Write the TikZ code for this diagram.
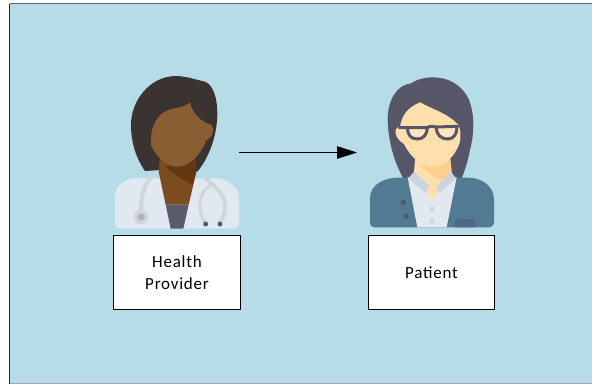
\documentclass[tikz,border=0pt]{standalone}
\usepackage{fontspec}
\setmainfont{Carlito}[LetterSpace=4.5]
\usetikzlibrary{arrows.meta}
\definecolor{bgblue}{HTML}{B6DCE7}
\definecolor{hairA}{HTML}{3B3232}
\definecolor{skinA}{HTML}{8A5D33}
\definecolor{neckA}{HTML}{7A4C20}
\definecolor{neckB}{HTML}{64390F}
\definecolor{coatA}{HTML}{E1E8EF}
\definecolor{stethA}{HTML}{CFD5DB}
\definecolor{shirtA}{HTML}{5B5A6B}
\definecolor{hairB}{HTML}{575568}
\definecolor{skinB}{HTML}{FFE0AC}
\definecolor{neckC}{HTML}{FFCF8F}
\definecolor{lensB}{HTML}{FFE6BC}
\definecolor{jacket}{HTML}{537A93}
\definecolor{pocket}{HTML}{4D6A8E}
\definecolor{collar}{HTML}{CCD5DD}
\tikzset{
  lab/.style={draw=black,fill=white,line width=.8pt,minimum width=126.7pt,minimum height=74.5pt,inner sep=2pt,align=center,font=\fontsize{17}{22}\selectfont},
  icon/.style={x=.33333pt,y=-.33333pt},
}
\begin{document}
\begin{tikzpicture}[x=1pt,y=-1pt]
\useasboundingbox (0,0) rectangle (592,384);
\fill[white] (0,0) rectangle (592,384);
\fill[bgblue] (9.5,3.5) rectangle (592,383);
\draw[black!85,line width=.8pt] (9.5,384) -- (9.5,3.5);
\draw[black!60,line width=.8pt] (9.5,3.5) -- (592,3.5);
\draw[black!35,line width=.7pt] (9.5,383.4) -- (592,383.4);
% doctor
\begin{scope}[shift={(100,70)},icon]
\fill[coatA] (45,380) .. controls (45,345) and (75,325) .. (110,325) -- (340,325) .. controls (385,325) and (417,350) .. (417,385) -- (417,460) .. controls (417,470) and (410,476) .. (400,476) -- (60,476) .. controls (50,476) and (45,470) .. (45,460) -- cycle;
\fill[hairA] (225,18) .. controls (260,18) and (290,30) .. (315,35) .. controls (340,45) and (352,85) .. (352,130) .. controls (352,190) and (330,260) .. (292,305) -- (180,300) -- (135,303) .. controls (105,260) and (92,210) .. (93,160) .. controls (95,90) and (150,20) .. (225,18) -- cycle;
\fill[neckA] (176,305) -- (180,260) -- (285,260) -- (288,310) -- (266,404) -- (197,404) -- cycle;
\fill[neckB] (195,290) -- (285,260) -- (288,310) -- (278,345) .. controls (250,330) and (225,315) .. (195,290) -- cycle;
\fill[shirtA] (197,404) -- (266,404) -- (250,476) -- (212,476) -- cycle;
\fill[skinA] (270,97) .. controls (278,130) and (300,155) .. (335,165) .. controls (345,175) and (340,200) .. (318,212) .. controls (300,260) and (265,290) .. (230,290) .. controls (195,288) and (165,255) .. (153,225) .. controls (150,180) and (165,135) .. (205,120) .. controls (230,112) and (255,112) .. (270,97) -- cycle;
\draw[stethA,line width=4pt,line cap=round] (165,312) .. controls (135,335) and (123,370) .. (123,425);
\fill[stethA] (123,441) circle (22);
\fill[gray!60] (123,441) circle (11);
\draw[stethA,line width=4pt,line cap=round] (318,325) .. controls (330,340) and (378,370) .. (376,410) .. controls (375,435) and (365,450) .. (358,458);
\draw[stethA,line width=3pt] (335,345) .. controls (310,355) and (298,385) .. (300,410) .. controls (302,435) and (310,450) .. (316,458);
\fill[shirtA] (317,462) circle (7.5) (360,462) circle (7.5);
\end{scope}
% patient
\begin{scope}[shift={(355,70)},icon]
\fill[hairB] (235,22) .. controls (280,22) and (320,45) .. (340,85) .. controls (360,130) and (358,190) .. (345,240) .. controls (338,275) and (330,300) .. (320,325) -- (145,325) .. controls (120,280) and (100,220) .. (98,150) .. controls (98,90) and (125,45) .. (168,40) .. controls (185,28) and (210,22) .. (235,22) -- cycle;
\fill[jacket] (45,385) .. controls (45,345) and (85,323) .. (130,323) -- (335,323) .. controls (385,323) and (417,350) .. (417,390) -- (417,455) .. controls (417,466) and (410,472) .. (400,472) -- (60,472) .. controls (50,472) and (45,466) .. (45,455) -- cycle;
\fill[coatA] (158,322) -- (305,322) -- (275,472) -- (187,472) -- cycle;
\fill[skinB] (181,260) -- (285,260) -- (290,308) -- (233,392) -- (177,305) -- cycle;
\fill[neckC] (195,285) -- (285,260) -- (290,308) -- (268,335) .. controls (240,325) and (215,305) .. (195,285) -- cycle;
\fill[collar] (160,325) -- (177,305) -- (222,345) -- (212,370) -- cycle;
\fill[collar] (303,325) -- (288,305) -- (243,350) -- (253,370) -- cycle;
\fill[skinB] (196,97) .. controls (225,115) and (280,130) .. (310,165) .. controls (318,180) and (318,200) .. (314,218) .. controls (300,262) and (265,290) .. (232,290) .. controls (195,288) and (165,258) .. (147,222) .. controls (130,212) and (118,195) .. (122,180) .. controls (124,172) and (130,170) .. (135,170) .. controls (140,140) and (155,112) .. (196,97) -- cycle;
\fill[lensB] (150,173) -- (215,173) .. controls (215,195) and (205,207) .. (185,207) .. controls (165,207) and (150,195) .. (150,173) -- cycle;
\fill[lensB] (244,171) -- (308,170) .. controls (308,195) and (298,207) .. (278,207) .. controls (258,207) and (244,195) .. (244,171) -- cycle;
\draw[hairB,line width=3pt,line join=round,line cap=round] (133,173) -- (160,173) -- (215,173) .. controls (225,168) and (235,168) .. (244,171) -- (308,169);
\draw[hairB,line width=3pt] (158,173) .. controls (157,195) and (168,207) .. (187,207) .. controls (205,207) and (217,193) .. (217,173);
\draw[hairB,line width=3pt] (244,171) .. controls (244,195) and (258,207) .. (278,207) .. controls (298,207) and (306,190) .. (306,170);
\fill[hairB] (145,397) circle (8) (153,439) circle (8);
\fill[stethA] (231,417) circle (8) (231,454) circle (8);
\fill[pocket] (299,472) -- (299,462) .. controls (299,452) and (305,447) .. (315,447) -- (345,447) .. controls (355,447) and (361,452) .. (361,462) -- (361,472) -- cycle;
\end{scope}
\node[lab] (hp) at (177,272.5) {\raisebox{.8pt}{Health}\\\raisebox{.8pt}{Provider}};
\node[lab] (pt) at (431.5,272.5) {Patient};
\coordinate (a) at (239,152.5);
\coordinate (b) at (357,152.5);
\draw[line width=.8pt,-{Triangle[length=20pt,width=12.5pt]}] (a) -- (b);
\end{tikzpicture}
\end{document}
